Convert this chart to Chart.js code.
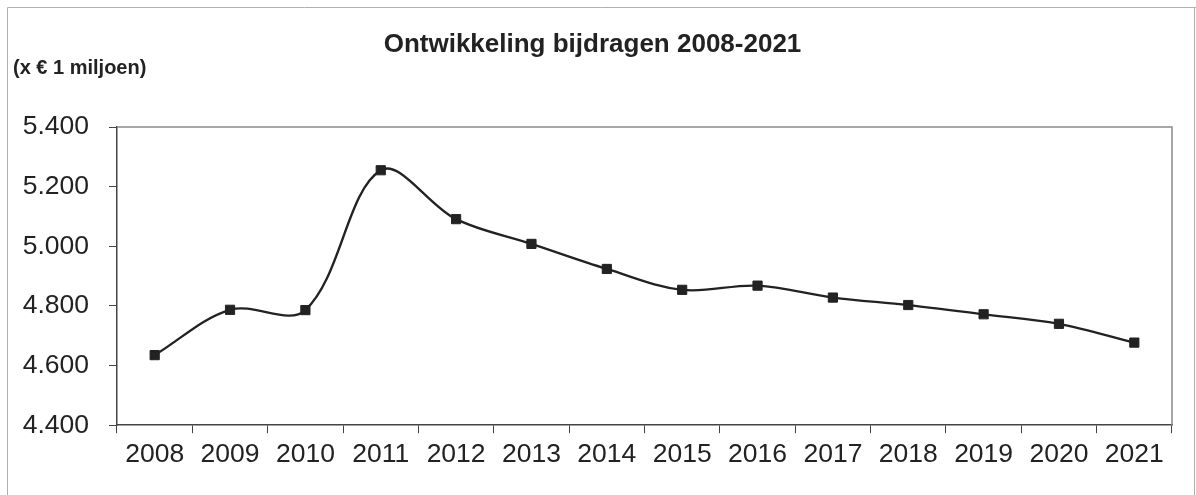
<!DOCTYPE html>
<html>
<head>
<meta charset="utf-8">
<script src="https://cdn.jsdelivr.net/npm/chart.js@4/dist/chart.umd.min.js"></script>
<style>
  html, body { margin: 0; padding: 0; background: #fff; }
  #wrap { position: relative; width: 1196px; height: 495px; }
</style>
</head>
<body>
<div id="wrap"><canvas id="grafiek" width="1196" height="495"></canvas></div>
<script>
const jaren = ['2008', '2009', '2010', '2011', '2012', '2013', '2014', '2015', '2016', '2017', '2018', '2019', '2020', '2021'];
const bijdragen = [4635, 4787, 4786, 5255, 5091, 5008, 4924, 4854, 4868, 4828, 4803, 4772, 4740, 4677];
const yMin = 4400;
const yMax = 5400;
const yStap = 200;

function Punten(v){
    // 5400 -> "5.400"
    let duizend = Math.floor(v / 1000);
    let rest = String(v % 1000).padStart(3, '0');
    return duizend + '.' + rest;
}

// lijnen rond het plotgebied en de rand van de figuur
const kader = {
    id: 'kader',
    beforeDraw(chart){
        let ctx = chart.ctx;
        ctx.save();
        ctx.strokeStyle = '#b0b0b0';
        ctx.lineWidth = 1;
        ctx.beginPath();
        ctx.moveTo(7.5, 495);
        ctx.lineTo(7.5, 7.5);
        ctx.lineTo(1196, 7.5);
        ctx.moveTo(1194.5, 7.5);
        ctx.lineTo(1194.5, 495);
        ctx.stroke();
        ctx.restore();
    },
    afterDatasetsDraw(chart){
        let a = chart.chartArea;
        let ctx = chart.ctx;
        ctx.save();
        ctx.strokeStyle = '#8a8a8a';
        ctx.lineWidth = 1.5;
        ctx.beginPath();
        ctx.moveTo(a.left, a.top);
        ctx.lineTo(a.right, a.top);
        ctx.lineTo(a.right, a.bottom);
        ctx.stroke();
        ctx.restore();
    }
};

Chart.defaults.font.family = "'Liberation Sans', Arial, sans-serif";
Chart.defaults.color = '#222';

const ctx = document.getElementById('grafiek');
new Chart(ctx, {
    type: 'line',
    data: {
        labels: jaren,
        datasets: [{
            label: 'Bijdragen',
            data: bijdragen,
            borderColor: '#222',
            borderWidth: 2.3,
            tension: 0.35,
            pointStyle: 'rect',
            pointRadius: 6.5,
            pointBorderWidth: 1,
            pointBackgroundColor: '#222',
            pointBorderColor: '#222'
        }]
    },
    options: {
        responsive: false,
        animation: false,
        layout: { padding: { left: 13, right: 24, top: 0, bottom: 18 } },
        plugins: {
            legend: { display: false },
            tooltip: { enabled: false },
            title: {
                display: true,
                text: 'Ontwikkeling bijdragen 2008-2021',
                font: { size: 26, weight: 'bold', lineHeight: 1.0 },
                color: '#222',
                padding: { top: 32, bottom: 0 }
            },
            subtitle: {
                display: true,
                text: '(x € 1 miljoen)',
                align: 'start',
                font: { size: 20, weight: 'bold', lineHeight: 1.0 },
                color: '#222',
                padding: { top: 0, bottom: 49 }
            }
        },
        scales: {
            x: {
                offset: true,
                grid: {
                    offset: true,
                    drawOnChartArea: false,
                    drawTicks: true,
                    tickLength: 8,
                    color: '#444'
                },
                border: { color: '#444', width: 1.5 },
                ticks: {
                    font: { size: 26.5 },
                    padding: 6,
                    maxRotation: 0,
                    autoSkip: false
                }
            },
            y: {
                min: yMin,
                max: yMax,
                afterFit(scale){ scale.width = 104; },
                grid: {
                    drawOnChartArea: false,
                    drawTicks: true,
                    tickLength: 8,
                    color: '#444'
                },
                border: { color: '#444', width: 1.5 },
                ticks: {
                    stepSize: yStap,
                    font: { size: 26.5 },
                    padding: 20,
                    callback: (v) => Punten(v)
                }
            }
        }
    },
    plugins: [kader]
});
</script>
</body>
</html>
